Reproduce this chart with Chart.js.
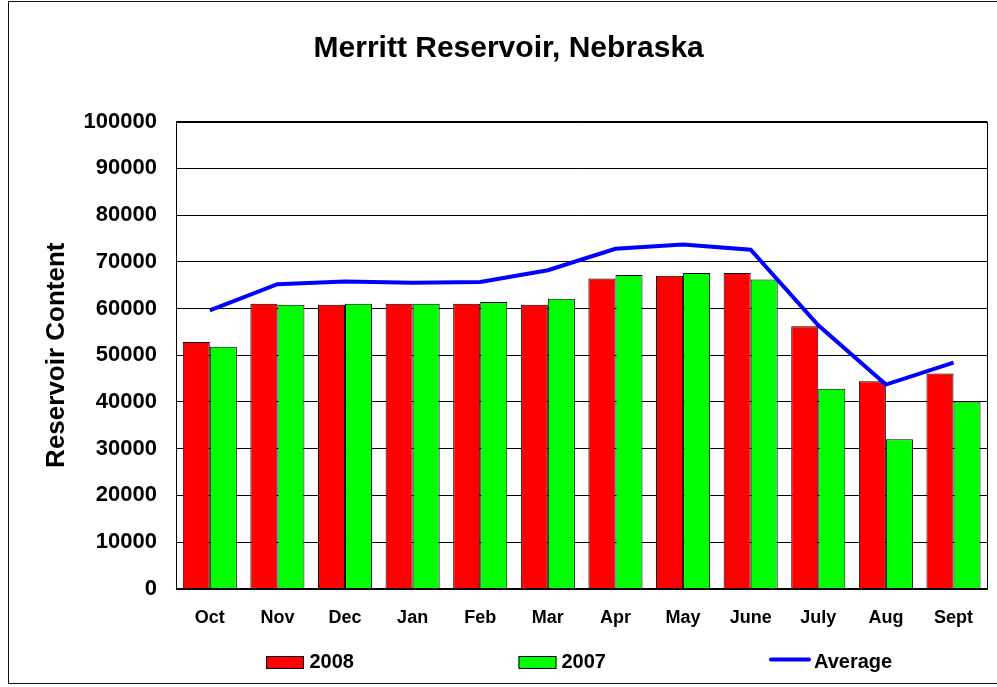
<!DOCTYPE html>
<html>
<head>
<meta charset="utf-8">
<script src="https://cdn.jsdelivr.net/npm/chart.js@4"></script>
<style>
  html, body { margin: 0; padding: 0; background: #fff; overflow: hidden; }
  #wrap { position: relative; width: 997px; height: 687px; }
  #frame { position: absolute; left: 8px; top: 1px; width: 1000px; height: 683px; border: 1px solid #111; box-sizing: border-box; pointer-events: none; }
  canvas { position: absolute; left: 0; top: 0; }
</style>
</head>
<body>
<div id="wrap">
  <canvas id="c" width="997" height="687"></canvas>
  <div id="frame"></div>
</div>
<script>
const categories = ['Oct','Nov','Dec','Jan','Feb','Mar','Apr','May','June','July','Aug','Sept'];
const values2008 = [52800, 61000, 60800, 61000, 61000, 60800, 66400, 67000, 67600, 56200, 44400, 46100];
const values2007 = [51800, 60800, 61000, 61000, 61400, 62100, 67200, 67600, 66200, 42800, 32000, 40100];
const valuesAverage = [59600, 65200, 65800, 65500, 65700, 68200, 72800, 73700, 72600, 56400, 43700, 48400];
const seriesNames = ['2008', '2007', 'Average'];
const chartTitle = 'Merritt Reservoir, Nebraska';
const yTitle = 'Reservoir Content';

const FONT = "'Liberation Sans', Arial, Helvetica, sans-serif";

const framePlugin = {
  id: 'plotFrame',
  afterDraw(chart) {
    const { ctx, chartArea: a } = chart;
    ctx.save();
    ctx.strokeStyle = '#000';
    ctx.lineWidth = 1;
    ctx.strokeRect(Math.round(a.left) + 0.5, Math.round(a.top) + 0.5, Math.round(a.right - a.left), Math.round(a.bottom - a.top));
    ctx.restore();
  }
};

const legendPlugin = {
  id: 'customLegend',
  afterDraw(chart) {
    const ctx = chart.ctx;
    const ds = chart.data.datasets;
    const cy = 662;
    const items = [
      { boxX: 266, textX: 309.5, i: 0 },
      { boxX: 518.5, textX: 561.5, i: 1 },
      { boxX: 769, textX: 814, i: 2 }
    ];
    ctx.save();
    ctx.font = 'bold 20px ' + FONT;
    ctx.textBaseline = 'middle';
    ctx.textAlign = 'left';
    items.forEach(it => {
      const d = ds[it.i];
      if (d.type === 'line') {
        ctx.strokeStyle = d.borderColor;
        ctx.lineWidth = 4;
        ctx.lineCap = 'round';
        ctx.beginPath();
        ctx.moveTo(it.boxX + 2, cy - 2.5);
        ctx.lineTo(it.boxX + 40, cy - 2.5);
        ctx.stroke();
      } else {
        ctx.fillStyle = d.backgroundColor;
        ctx.fillRect(it.boxX, cy - 6, 38, 12);
        ctx.strokeStyle = '#000';
        ctx.lineWidth = 1;
        ctx.strokeRect(it.boxX + 0.5, cy - 6 + 0.5, 37, 12);
      }
      ctx.fillStyle = '#000';
      ctx.fillText(d.label, it.textX, cy);
    });
    ctx.restore();
  }
};

new Chart(document.getElementById('c'), {
  data: {
    labels: categories,
    datasets: [
      {
        type: 'bar', label: seriesNames[0], data: values2008,
        backgroundColor: '#FF0000', borderColor: '#000', borderWidth: 1,
        categoryPercentage: 0.8, barPercentage: 1.0, order: 2
      },
      {
        type: 'bar', label: seriesNames[1], data: values2007,
        backgroundColor: '#00FF00', borderColor: '#000', borderWidth: 1,
        categoryPercentage: 0.8, barPercentage: 1.0, order: 2
      },
      {
        type: 'line', label: seriesNames[2], data: valuesAverage,
        borderColor: '#0000FF', backgroundColor: '#0000FF', borderWidth: 4,
        pointRadius: 0, tension: 0, fill: false, order: 0
      }
    ]
  },
  options: {
    responsive: false,
    animation: false,
    devicePixelRatio: 1,
    layout: { padding: { left: 30, right: 9.7, top: 0, bottom: 58.3 } },
    plugins: {
      legend: { display: false },
      tooltip: { enabled: false },
      title: {
        display: true, text: chartTitle, color: '#000',
        font: { family: FONT, size: 30, weight: 'bold' },
        padding: { top: 31, bottom: 54.7 }
      }
    },
    scales: {
      x: {
        grid: { display: false, drawTicks: false },
        border: { display: true, color: '#000', width: 1 },
        ticks: { color: '#000', font: { family: FONT, size: 18, weight: 'bold' }, padding: 19, maxRotation: 0, autoSkip: false },
        afterFit(s) { s.height = 40; }
      },
      y: {
        min: 0, max: 100000,
        grid: { color: '#000', lineWidth: 1, drawTicks: false },
        border: { display: true, color: '#000', width: 1 },
        ticks: {
          stepSize: 10000, color: '#000', padding: 19,
          font: { family: FONT, size: 22, weight: 'bold' },
          callback: v => String(v)
        },
        title: {
          display: true, text: yTitle, color: '#000',
          font: { family: FONT, size: 26, weight: 'bold' },
          padding: { top: 11, bottom: 0 }
        },
        afterFit(s) { s.width = 146; }
      }
    }
  },
  plugins: [framePlugin, legendPlugin]
});
</script>
</body>
</html>
